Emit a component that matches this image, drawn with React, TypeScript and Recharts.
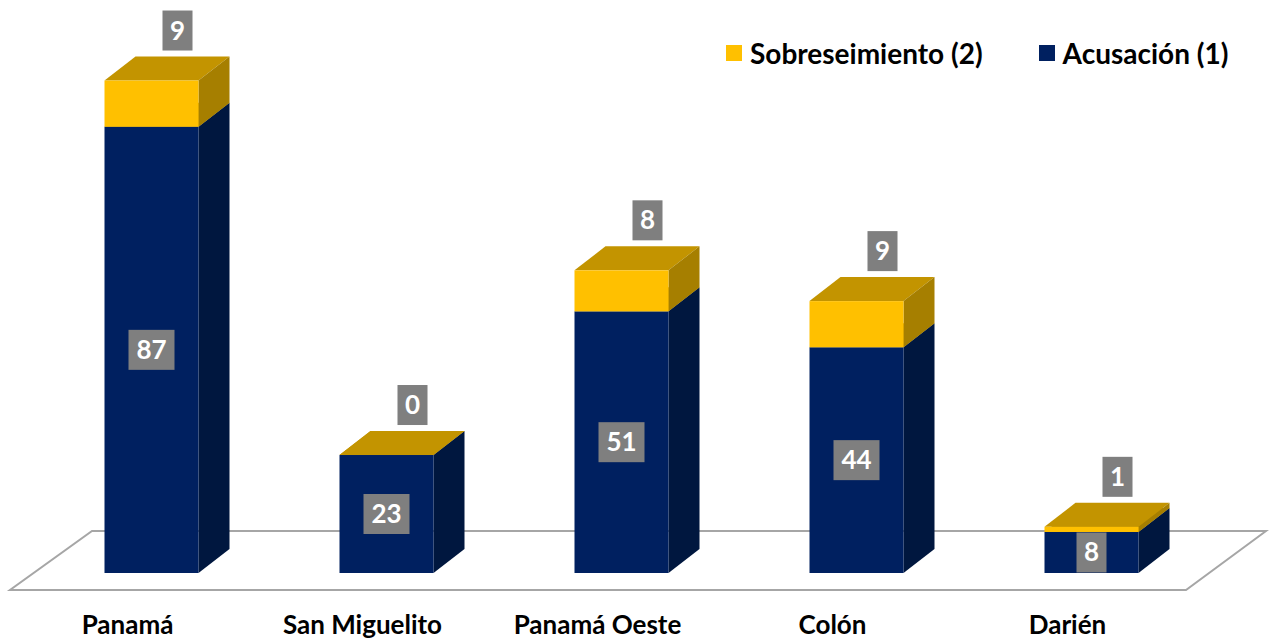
import { BarChart, Bar, XAxis, YAxis, LabelList } from "recharts";

const categories = ["Panamá", "San Miguelito", "Panamá Oeste", "Colón", "Darién"];
const acusacion = [87, 23, 51, 44, 8];
const sobreseimiento = [9, 0, 8, 9, 1];

const data = categories.map((name, i) => ({
  name,
  acusacion: acusacion[i],
  sobreseimiento: sobreseimiento[i],
}));

const FONT = "Lato, 'Open Sans', sans-serif";
const DX = 31; // profundidad 3D
const DY = 24;

const BLUE = "#002060";
const BLUE_SIDE = "#00173f";
const YELLOW = "#FFC000";
const YELLOW_SIDE = "#a67f00";
const GOLD_TOP = "#c39400";

function Box(props: any, front: string, side: string) {
  const { x, y, width: w, height: h } = props;
  if (x == null || y == null) return <g />;
  return (
    <g>
      <polygon
        points={`${x},${y} ${x + w},${y} ${x + w + DX},${y - DY} ${x + DX},${y - DY}`}
        fill={GOLD_TOP}
      />
      <polygon
        points={`${x + w},${y} ${x + w + DX},${y - DY} ${x + w + DX},${y + h - DY} ${x + w},${y + h}`}
        fill={side}
      />
      <rect x={x} y={y} width={w} height={h} fill={front} />
    </g>
  );
}

const BlueBox = (p: any) => Box(p, BLUE, BLUE_SIDE);
const YellowBox = (p: any) => Box(p, YELLOW, YELLOW_SIDE);

function ValueBox({ cx, cy, value }: { cx: number; cy: number; value: any }) {
  const txt = String(value);
  const w = 14 + txt.length * 16;
  return (
    <g>
      <rect x={cx - w / 2} y={cy - 20} width={w} height={40} fill="#7f7f7f" />
      <text
        x={cx}
        y={cy + 9}
        textAnchor="middle"
        fill="#fff"
        fontFamily={FONT}
        fontWeight={700}
        fontSize={26}
      >
        {txt}
      </text>
    </g>
  );
}

const MidLabel = (props: any) => {
  const vb = props.viewBox || props;
  const { x, y, width, height } = vb;
  return <ValueBox cx={x + width / 2} cy={y + height / 2} value={props.value} />;
};

const TopLabel = (props: any) => {
  const vb = props.viewBox || props;
  const { x, y, width } = vb;
  return <ValueBox cx={x + width / 2 + 26} cy={y - DY - 26} value={props.value} />;
};

// etiquetas del eje alineadas con el borde frontal del piso
const CatTick = ({ x, y, payload }: any) => (
  <text
    x={x - 24}
    y={y + 53}
    textAnchor="middle"
    fill="#000"
    fontFamily={FONT}
    fontWeight={700}
    fontSize={26}
  >
    {payload.value}
  </text>
);

export default function App() {
  return (
    <div
      style={{
        position: "absolute",
        left: 0,
        top: 0,
        width: 1269,
        height: 641,
        background: "#fff",
        overflow: "hidden",
      }}
    >
      {/* piso */}
      <svg width={1269} height={641} style={{ position: "absolute", left: 0, top: 0 }}>
        <polygon
          points="10,590 1186,590 1266,531 92,531"
          fill="#fff"
          stroke="#a6a6a6"
          strokeWidth={2}
        />
      </svg>

      <div style={{ position: "absolute", left: 0, top: 0 }}>
        <BarChart
          width={1269}
          height={641}
          data={data}
          margin={{ top: 60, right: 60, bottom: 0, left: 34 }}
          barCategoryGap="30%"
        >
          <XAxis
            dataKey="name"
            axisLine={false}
            tickLine={false}
            height={68}
            interval={0}
            tick={CatTick}
          />
          <YAxis hide domain={[0, 100]} />
          <Bar
            dataKey="acusacion"
            stackId="a"
            fill={BLUE}
            shape={BlueBox}
            isAnimationActive={false}
          >
            <LabelList dataKey="acusacion" content={MidLabel} />
          </Bar>
          <Bar
            dataKey="sobreseimiento"
            stackId="a"
            fill={YELLOW}
            shape={YellowBox}
            isAnimationActive={false}
          >
            <LabelList dataKey="sobreseimiento" content={TopLabel} />
          </Bar>
        </BarChart>
      </div>

      {/* leyenda */}
      <div
        style={{
          position: "absolute",
          left: 726,
          top: 36,
          display: "flex",
          alignItems: "center",
          fontFamily: FONT,
          fontWeight: 700,
          fontSize: 28,
          color: "#000",
          whiteSpace: "nowrap",
        }}
      >
        <span style={{ width: 16, height: 16, background: YELLOW, marginRight: 8 }} />
        <span style={{ marginRight: 56 }}>Sobreseimiento (2)</span>
        <span style={{ width: 16, height: 16, background: BLUE, marginRight: 8 }} />
        <span>Acusación (1)</span>
      </div>
    </div>
  );
}
